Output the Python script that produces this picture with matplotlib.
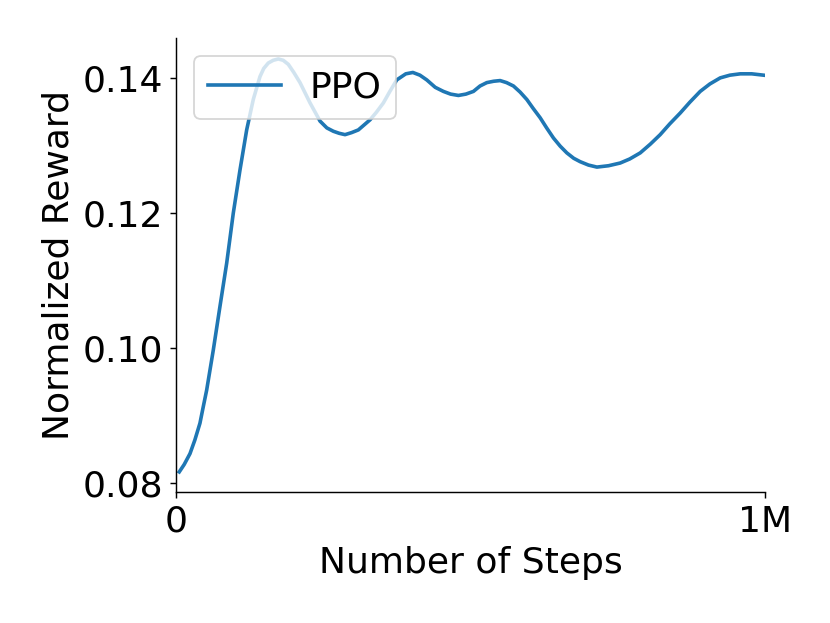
import numpy as np
import matplotlib
matplotlib.use('Agg')
import matplotlib.pyplot as plt

# значення
steps = [5600, 14000, 23800, 32000, 40700, 46000, 52100, 63300, 74700, 86100, 97300,
         108700, 120000, 131200, 142600, 149000, 156700, 165000, 173700, 182000,
         190700, 200000, 210500, 227500, 244500, 256000, 267100, 277000, 286900,
         298000, 309500, 329400, 340000, 352000, 363000, 374700, 390000, 402000,
         414000, 425600, 440000, 453800, 466000, 479300, 492000, 504800, 516000,
         527500, 539000, 550100, 561000, 572700, 584000, 595400, 606000, 618000,
         629000, 640600, 652000, 663300, 675000, 685900, 700000, 714300, 734000,
         753800, 770000, 787800, 805000, 821700, 838000, 855700, 872000, 889600,
         906000, 923600, 940000, 957600, 977000, 997100]
reward = [0.0817, 0.0828, 0.0844, 0.0864, 0.0889, 0.0912, 0.0938, 0.0997, 0.1062,
          0.1126, 0.1200, 0.1264, 0.1323, 0.1368, 0.1402, 0.1414, 0.1422, 0.1426,
          0.1428, 0.1426, 0.1420, 0.1408, 0.1393, 0.1363, 0.1336, 0.1326, 0.1321,
          0.1318, 0.1316, 0.1319, 0.1323, 0.1338, 0.1349, 0.1363, 0.1380, 0.1397,
          0.1406, 0.1408, 0.1404, 0.1397, 0.1386, 0.1380, 0.1376, 0.1374, 0.1376,
          0.1380, 0.1388, 0.1393, 0.1395, 0.1396, 0.1393, 0.1388, 0.1379, 0.1368,
          0.1355, 0.1341, 0.1326, 0.1311, 0.1299, 0.1289, 0.1281, 0.1276, 0.1271,
          0.1268, 0.1270, 0.1274, 0.1280, 0.1289, 0.1302, 0.1316, 0.1332, 0.1348,
          0.1364, 0.1380, 0.1391, 0.1400, 0.1404, 0.1406, 0.1406, 0.1404]

fig = plt.figure(figsize=(830 / 130, 623 / 130), dpi=130)
ax = fig.add_axes([0.212, 0.21, 0.71, 0.729])

ax.plot(steps, reward, color='#1f77b4', linewidth=2, label='PPO')

ax.set_xlim(0, 1_000_000)
ax.set_ylim(0.0787, 0.1459)
ax.set_xticks([0, 1_000_000])
ax.set_xticklabels(['0', '1M'])
ax.set_yticks([0.08, 0.10, 0.12, 0.14])
ax.set_yticklabels(['0.08', '0.10', '0.12', '0.14'])
ax.tick_params(labelsize=20)
ax.spines['top'].set_visible(False)
ax.spines['right'].set_visible(False)

ax.set_xlabel('Number of Steps', fontsize=20)
ax.set_ylabel('Normalized Reward', fontsize=20)
ax.legend(loc='upper left', fontsize=20)

fig.savefig('out.png', dpi=130)
